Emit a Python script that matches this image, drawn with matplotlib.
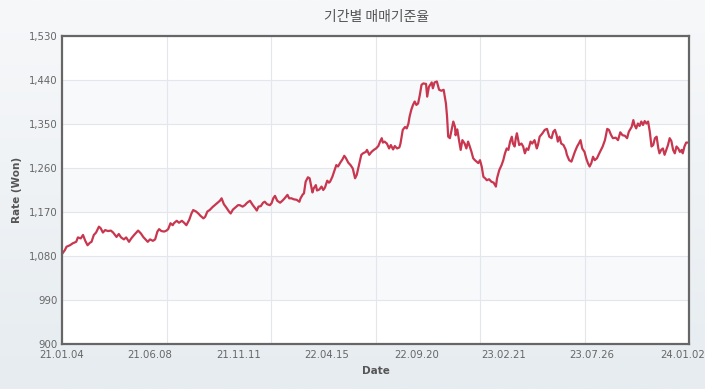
"""
기간별 매매기준율 line chart (KRW rate, 2021-01 ~ 2024-01).
"""
import numpy as np
import pandas as pd
import matplotlib
matplotlib.use("Agg")
import matplotlib.pyplot as plt
import matplotlib.dates as mdates
from matplotlib.ticker import FuncFormatter

plt.rcParams["font.family"] = ["DejaVu Sans", "Noto Sans CJK KR"]

# days since 2021-01-04
day_offsets = [
    0, 5, 8, 14, 19, 25, 28, 33, 37, 41, 45, 49, 52, 56, 60, 65, 68, 72, 76, 81,
    86, 90, 96, 100, 104, 109, 113, 118, 122, 127, 134, 139, 143, 147, 151,
    155, 160, 164, 168, 171, 175, 180, 184, 187, 191, 195, 197, 202, 206, 211,
    215, 219, 224, 228, 231, 236, 240, 244, 249, 252, 256, 260, 265, 269, 273,
    278, 281, 285, 290, 294, 297, 301, 306, 310,
    313, 318, 322, 326, 331, 336, 340, 343, 346, 350, 354, 357, 361, 366, 369,
    372, 375, 379, 384, 388, 392, 397, 400, 404, 408, 413, 418, 420, 424, 426,
    429, 433, 436, 439, 441, 443, 447, 449, 453, 457, 460, 463, 467, 470,
    472, 476, 480, 483, 486, 490, 494, 497, 500, 504, 508, 512, 514, 516, 519,
    521, 524, 527, 530, 535, 537, 541, 545, 549, 553, 557, 560, 563, 565, 568,
    572, 576, 579, 583, 586, 590, 594, 596, 598, 600, 604, 607, 610, 612, 615,
    618, 621, 624, 627,
    630, 633, 636, 641, 643, 646, 651, 653, 656, 660, 664, 668, 672, 676, 678,
    680, 683, 686, 689, 692, 693, 696, 699, 702, 705, 709, 712, 715, 718, 721,
    724, 727, 730, 733, 736, 739, 742, 745, 748, 752, 756, 760, 764, 766, 770,
    774, 777, 780, 783, 786,
    789, 792, 794, 797, 799, 801, 805, 809, 812, 815, 818, 821, 825, 828, 832,
    836, 838, 841, 846, 850, 854, 858, 862, 865, 868, 871, 873, 876, 879, 883,
    887, 889, 893, 897, 900, 903, 907, 910, 913, 916, 920, 923, 926, 929, 932,
    935, 938, 942, 946,
    952, 956, 960, 963, 967, 970, 975, 979, 983, 987, 991, 995, 998, 1003, 1006,
    1008, 1011, 1014, 1017, 1020, 1023, 1026, 1029, 1032, 1035, 1038, 1041,
    1044, 1047, 1050, 1052, 1055, 1058, 1061, 1064, 1067, 1070, 1073, 1076,
    1079, 1082, 1085, 1088, 1091, 1093, 1096, 1099, 1102,
]

rates = [
    1084, 1092, 1099, 1102, 1106, 1109, 1118, 1116, 1123, 1111, 1102, 1107,
    1109, 1123, 1128, 1140, 1137, 1128, 1133, 1131, 1132, 1128, 1119, 1125,
    1118, 1114, 1118, 1109, 1116, 1123, 1132, 1126, 1119, 1114, 1109,
    1114, 1111, 1114, 1130, 1135, 1131, 1130, 1132, 1135, 1147, 1143, 1147,
    1152, 1148, 1152, 1148, 1143, 1154, 1167, 1174, 1171, 1167, 1162, 1157,
    1160, 1171, 1174, 1180, 1184, 1188, 1193, 1198, 1186, 1178, 1171, 1167,
    1175, 1180, 1184,
    1184, 1181, 1184, 1189, 1193, 1184, 1178, 1173, 1181, 1182, 1189, 1191,
    1186, 1184, 1188, 1198, 1203, 1193, 1189, 1193, 1198, 1205, 1198, 1198,
    1196, 1195, 1191, 1198, 1206, 1208, 1232, 1241, 1239, 1222, 1210, 1218,
    1225, 1214, 1216, 1222, 1215, 1220, 1234, 1230,
    1232, 1242, 1256, 1266, 1263, 1271, 1278, 1285, 1280, 1271, 1266, 1259,
    1249, 1239, 1246, 1256, 1271, 1287, 1290, 1293, 1297, 1287, 1293, 1297,
    1300, 1305, 1314, 1321, 1312, 1314, 1310, 1300, 1307, 1298, 1305, 1300,
    1302, 1310, 1324, 1338, 1344, 1341, 1351, 1365, 1379, 1389, 1396, 1389,
    1392,
    1409, 1430, 1433, 1432, 1406, 1426, 1435, 1423, 1435, 1437, 1420, 1418,
    1420, 1392, 1365, 1324, 1321, 1338, 1355, 1344, 1327, 1339, 1317, 1297,
    1317, 1310, 1300, 1314, 1304, 1293, 1280, 1276, 1273, 1270, 1276, 1263,
    1242, 1239, 1235, 1237, 1232, 1230, 1222, 1239, 1256, 1266, 1276, 1290,
    1300, 1297,
    1314, 1324, 1310, 1304, 1321, 1331, 1307, 1310, 1304, 1290, 1300, 1297,
    1314, 1310, 1317, 1300, 1307, 1324, 1331, 1338, 1340, 1324, 1321, 1334,
    1338, 1327, 1314, 1324, 1310, 1307, 1297, 1287, 1276, 1273, 1283, 1293,
    1304, 1310, 1317, 1300, 1293, 1280, 1270, 1263, 1270, 1283, 1276, 1280,
    1290,
    1304, 1317, 1340, 1338, 1327, 1321, 1322, 1317, 1333, 1327, 1326, 1321,
    1334, 1344, 1358, 1348, 1341, 1351, 1346, 1355, 1348, 1356, 1351, 1355,
    1334, 1304, 1307, 1321, 1324, 1300, 1290, 1297, 1300, 1287, 1297, 1307,
    1321, 1315, 1297, 1290, 1304, 1300, 1293, 1297, 1290, 1304, 1312, 1312,
]

tick_labels = ["21.01.04", "21.06.08", "21.11.11", "22.04.15",
               "22.09.20", "23.02.21", "23.07.26", "24.01.02"]

y_ticks = [900, 990, 1080, 1170, 1260, 1350, 1440, 1530]

start = pd.Timestamp("2021-01-04")
dates = start + pd.to_timedelta(day_offsets, unit="D")
end = start + pd.Timedelta(days=1104)

fig = plt.figure(figsize=(7.05, 3.89), dpi=100)

# soft gradient background
bg = fig.add_axes([0, 0, 1, 1], zorder=-10)
grad = np.linspace(0, 1, 256).reshape(-1, 1)
bg.imshow(grad, aspect="auto", extent=[0, 1, 0, 1],
          cmap=matplotlib.colors.LinearSegmentedColormap.from_list(
              "bg", ["#e6ecf0", "#f7f8fa"]), origin="lower")
bg.axis("off")

ax = fig.add_axes([62 / 705, 45 / 389, 627 / 705, 308 / 389])
ax.set_facecolor("white")

# alternating light bands
for lo, hi in zip(y_ticks[1::2], y_ticks[2::2]):
    ax.axhspan(lo, hi, color="#f7f9fb", zorder=0, lw=0)

ax.plot(dates, rates, color="#c8374f", lw=1.6, zorder=3)

ax.set_ylim(900, 1530)
ax.set_yticks(y_ticks)
ax.yaxis.set_major_formatter(FuncFormatter(lambda v, _: f"{int(v):,}"))
ax.set_xlim(start, end)

label_dates = pd.to_datetime(tick_labels, format="%y.%m.%d")
ax.set_xticks(mdates.date2num(label_dates))
ax.set_xticklabels(tick_labels)
grid_pos = mdates.date2num([start + pd.Timedelta(days=184 * k) for k in range(7)])
ax.set_xticks(grid_pos, minor=True)

ax.grid(axis="y", color="#e3e6ea", lw=0.8, zorder=1)
ax.grid(axis="x", which="minor", color="#e3e6ea", lw=0.8, zorder=1)
ax.grid(axis="x", which="major", visible=False)
ax.tick_params(which="both", length=0, labelsize=7.3, colors="#666666")
ax.tick_params(axis="y", pad=3)
ax.tick_params(axis="x", pad=4.5)

for s in ax.spines.values():
    s.set_color("#666666")
    s.set_linewidth(1.6)
    s.set_zorder(4)

ax.set_xlabel("Date", fontsize=7.5, fontweight="bold", color="#555555", labelpad=4)
ax.set_ylabel("Rate (Won)", fontsize=7.5, fontweight="bold", color="#555555", labelpad=5)

fig.text(377 / 705, 1 - 17 / 389, "기간별 매매기준율", ha="center", va="center",
         fontsize=10, color="#555555", family=["Noto Sans CJK KR", "DejaVu Sans"])

fig.savefig("out.png", dpi=100)
plt.close(fig)
